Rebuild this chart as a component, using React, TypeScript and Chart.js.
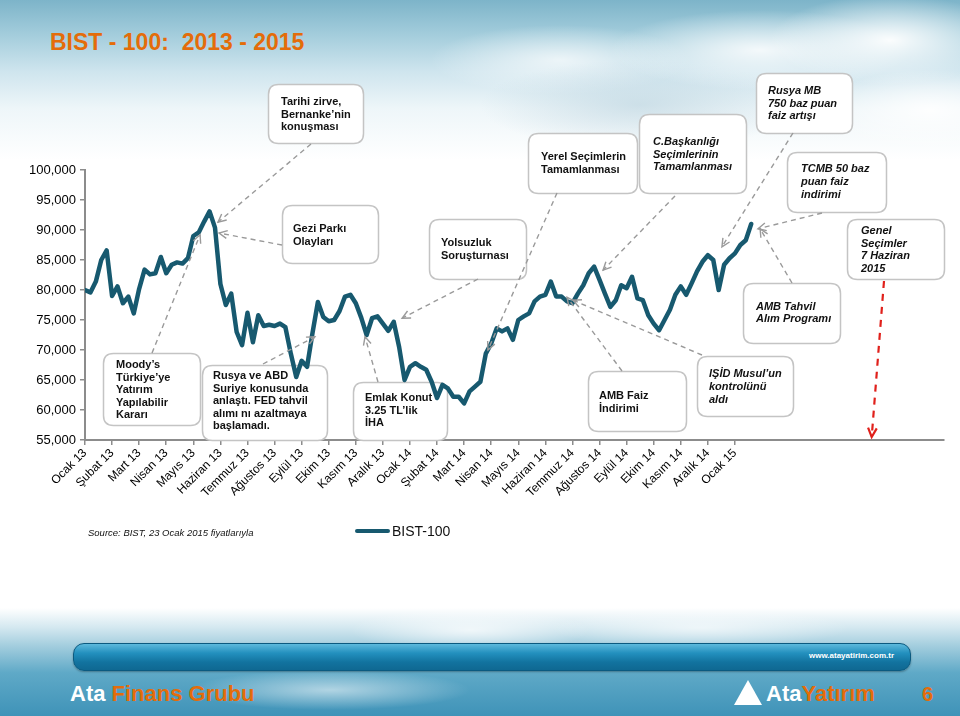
import React, { useEffect, useRef } from 'react';
import { Chart, registerables } from 'chart.js';

Chart.register(...registerables);

// ---------- DATA ----------
const monthLabels = [
  'Ocak 13', 'Şubat 13', 'Mart 13', 'Nisan 13', 'Mayıs 13', 'Haziran 13', 'Temmuz 13', 'Ağustos 13',
  'Eylül 13', 'Ekim 13', 'Kasım 13', 'Aralık 13', 'Ocak 14', 'Şubat 14', 'Mart 14', 'Nisan 14',
  'Mayıs 14', 'Haziran 14', 'Temmuz 14', 'Ağustos 14', 'Eylül 14', 'Ekim 14', 'Kasım 14', 'Aralık 14', 'Ocak 15',
];

// readings every 0.2 month starting at the start of January 2013
const STEP_MONTHS = 0.2;
const bist100 = [
  80000, 79600, 81400, 85000, 86600, 79000, 80600, 77800, 78900, 76100,
  80200, 83400, 82600, 82800, 85500, 82800, 84200, 84600, 84400, 85300,
  89000, 89600, 91400, 93100, 90400, 81000, 77500, 79400, 73000, 70800,
  76200, 71300, 75800, 74000, 74200, 74000, 74400, 73800, 69400, 65500,
  68200, 67200, 72800, 78000, 75500, 74800, 75000, 76500, 78900, 79200,
  77800, 75400, 72500, 75300, 75600, 74400, 73200, 74700, 70500, 65000,
  67200, 67800, 67200, 66700, 64700, 62000, 64200, 63600, 62200, 62200,
  61100, 63100, 63900, 64700, 69400, 71100, 73600, 73100, 73600, 71700,
  75000, 75600, 76100, 78100, 78900, 79200, 81400, 78900, 78900, 78100,
  77800, 79400, 80800, 82800, 83900, 81700, 79400, 77200, 78300, 80800,
  80300, 82200, 78600, 78300, 75800, 74400, 73300, 75000, 76700, 79200,
  80600, 79200, 81100, 83100, 84700, 85800, 85000, 80000, 84200, 85300,
  86100, 87500, 88300, 91000,
];

const yMin = 55000;
const yMax = 100000;
const yStep = 5000;
const xMaxMonths = 31.72;

// ---------- CALLOUTS (layout) ----------
type Callout = { x: number; y: number; w: number; h: number; tx: number; ty: number; lh: number; italic: boolean; lines: string[] };
const callouts: Callout[] = [
  { x: 268, y: 84, w: 95, h: 59, tx: 281, ty: 102, lh: 12.5, italic: false, lines: ['Tarihi zirve,', 'Bernanke’nin', 'konuşması'] },
  { x: 282, y: 205, w: 96, h: 58, tx: 293, ty: 229, lh: 13, italic: false, lines: ['Gezi Parkı', 'Olayları'] },
  { x: 429, y: 219, w: 97, h: 60, tx: 441, ty: 243, lh: 13, italic: false, lines: ['Yolsuzluk', 'Soruşturnası'] },
  { x: 528, y: 133, w: 109, h: 60, tx: 541, ty: 157, lh: 13, italic: false, lines: ['Yerel Seçimlerin', 'Tamamlanması'] },
  { x: 639, y: 114, w: 107, h: 79, tx: 653, ty: 142, lh: 12.5, italic: true, lines: ['C.Başkanlığı', 'Seçimlerinin', 'Tamamlanması'] },
  { x: 756, y: 73, w: 96, h: 60, tx: 768, ty: 91, lh: 12.5, italic: true, lines: ['Rusya MB', '750 baz puan', 'faiz artışı'] },
  { x: 787, y: 152, w: 99, h: 60, tx: 801, ty: 169, lh: 13, italic: true, lines: ['TCMB 50 baz', 'puan faiz', 'indirimi'] },
  { x: 847, y: 219, w: 97, h: 60, tx: 861, ty: 231, lh: 12.5, italic: true, lines: ['Genel', 'Seçimler', '7 Haziran', '2015'] },
  { x: 743, y: 283, w: 97, h: 60, tx: 756, ty: 307, lh: 12, italic: true, lines: ['AMB Tahvil', 'Alım Programı'] },
  { x: 697, y: 356, w: 96, h: 60, tx: 709, ty: 374, lh: 13, italic: true, lines: ['IŞİD Musul’un', 'kontrolünü', 'aldı'] },
  { x: 588, y: 371, w: 98, h: 60, tx: 599, ty: 396, lh: 12.5, italic: false, lines: ['AMB Faiz', 'İndirimi'] },
  { x: 353, y: 382, w: 94, h: 58, tx: 365, ty: 398, lh: 12.5, italic: false, lines: ['Emlak Konut', '3.25 TL’lik', 'İHA'] },
  { x: 202, y: 365, w: 125, h: 75, tx: 213, ty: 376, lh: 12.5, italic: false, lines: ['Rusya ve ABD', 'Suriye konusunda', 'anlaştı. FED tahvil', 'alımı nı azaltmaya', 'başlamadı.'] },
  { x: 103, y: 353, w: 97, h: 72, tx: 116, ty: 365, lh: 12.5, italic: false, lines: ['Moody’s', 'Türkiye’ye', 'Yatırım', 'Yapılabilir', 'Kararı'] },
];

// arrows: start point in pixels (on a callout), tip in data units (month, index value)
type Arrow = { fx: number; fy: number; month: number; value: number; red?: boolean };
const arrows: Arrow[] = [
  { fx: 311, fy: 144, month: 4.91, value: 91300 },
  { fx: 282, fy: 245, month: 4.95, value: 89500 },
  { fx: 152, fy: 353, month: 4.25, value: 89200 },
  { fx: 263, fy: 364, month: 8.49, value: 72200 },
  { fx: 378, fy: 382, month: 10.34, value: 72200 },
  { fx: 478, fy: 279, month: 11.71, value: 75300 },
  { fx: 557, fy: 193, month: 14.88, value: 70000 },
  { fx: 675, fy: 196, month: 19.13, value: 83300 },
  { fx: 793, fy: 133, month: 23.52, value: 87200 },
  { fx: 822, fy: 213, month: 24.85, value: 90200 },
  { fx: 792, fy: 283, month: 24.93, value: 90200 },
  { fx: 622, fy: 371, month: 17.8, value: 78800 },
  { fx: 702, fy: 355, month: 18.02, value: 78300 },
  { fx: 884, fy: 281, month: 29.05, value: 55500, red: true },
];

const LINE_COLOR = '#17596F';
const ORANGE = '#E46C0A';
const FONT = 'Arial, "Liberation Sans", sans-serif';

function rrect(ctx: CanvasRenderingContext2D, x: number, y: number, w: number, h: number, r: number) {
  ctx.beginPath();
  ctx.moveTo(x + r, y);
  ctx.lineTo(x + w - r, y);
  ctx.quadraticCurveTo(x + w, y, x + w, y + r);
  ctx.lineTo(x + w, y + h - r);
  ctx.quadraticCurveTo(x + w, y + h, x + w - r, y + h);
  ctx.lineTo(x + r, y + h);
  ctx.quadraticCurveTo(x, y + h, x, y + h - r);
  ctx.lineTo(x, y + r);
  ctx.quadraticCurveTo(x, y, x + r, y);
  ctx.closePath();
}

const calloutPlugin = {
  id: 'callouts',
  beforeDatasetsDraw(chart: any) {
    const ctx: CanvasRenderingContext2D = chart.ctx;
    ctx.save();
    for (const b of callouts) {
      rrect(ctx, b.x + 0.5, b.y + 0.5, b.w, b.h, 10);
      ctx.fillStyle = '#ffffff';
      ctx.fill();
      ctx.strokeStyle = '#c4c4c4';
      ctx.lineWidth = 1.5;
      ctx.stroke();
      ctx.fillStyle = '#111111';
      ctx.font = `${b.italic ? 'italic ' : ''}bold 11px ${FONT}`;
      ctx.textBaseline = 'middle';
      ctx.textAlign = 'left';
      b.lines.forEach((t, i) => ctx.fillText(t, b.tx, b.ty + i * b.lh));
    }
    ctx.restore();
  },
  afterDatasetsDraw(chart: any) {
    const ctx: CanvasRenderingContext2D = chart.ctx;
    const xs = chart.scales.x;
    const ys = chart.scales.y;
    ctx.save();
    for (const a of arrows) {
      const tx = xs.getPixelForValue(a.month);
      const ty = ys.getPixelForValue(a.value);
      const col = a.red ? '#E0201B' : '#9a9a9a';
      ctx.strokeStyle = col;
      ctx.lineWidth = a.red ? 2.2 : 1.4;
      ctx.setLineDash(a.red ? [7, 6] : [5, 4]);
      ctx.beginPath();
      ctx.moveTo(a.fx, a.fy);
      ctx.lineTo(tx, ty);
      ctx.stroke();
      ctx.setLineDash([]);
      const ang = Math.atan2(ty - a.fy, tx - a.fx);
      const L = a.red ? 10 : 9;
      const spread = 0.45;
      ctx.beginPath();
      ctx.moveTo(tx - L * Math.cos(ang - spread), ty - L * Math.sin(ang - spread));
      ctx.lineTo(tx, ty);
      ctx.lineTo(tx - L * Math.cos(ang + spread), ty - L * Math.sin(ang + spread));
      ctx.stroke();
    }
    ctx.restore();
  },
};

export default function App() {
  const canvasRef = useRef<HTMLCanvasElement | null>(null);

  useEffect(() => {
    const canvas = canvasRef.current;
    if (!canvas) return;
    const chart = new Chart(canvas, {
      type: 'line',
      data: {
        datasets: [
          {
            label: 'BIST-100',
            data: bist100.map((v, i) => ({ x: i * STEP_MONTHS, y: v })),
            borderColor: LINE_COLOR,
            backgroundColor: LINE_COLOR,
            borderWidth: 4.5,
            pointRadius: 0,
            tension: 0,
            fill: false,
            borderJoinStyle: 'round',
            borderCapStyle: 'round',
          },
        ],
      },
      options: {
        responsive: false,
        animation: false,
        devicePixelRatio: 1,
        layout: { padding: { top: 170, right: 16, left: 0, bottom: 0 } },
        plugins: { legend: { display: false }, tooltip: { enabled: false } },
        scales: {
          x: {
            type: 'linear',
            min: 0,
            max: xMaxMonths,
            afterBuildTicks: (s: any) => {
              s.ticks = monthLabels.map((_, i) => ({ value: i }));
            },
            afterFit: (s: any) => {
              s.height = 276;
            },
            ticks: {
              autoSkip: false,
              minRotation: 45,
              maxRotation: 45,
              padding: 1,
              color: '#000',
              font: { family: FONT, size: 12 },
              callback: (_v: any, i: number) => monthLabels[i] ?? '',
            },
            grid: { display: true, drawOnChartArea: false, drawTicks: true, tickLength: 5, color: '#8c8c8c', lineWidth: 1.5 },
            border: { display: true, color: '#8c8c8c', width: 2 },
          },
          y: {
            min: yMin,
            max: yMax,
            afterFit: (s: any) => {
              s.width = 85;
            },
            ticks: {
              stepSize: yStep,
              padding: 4,
              color: '#000',
              font: { family: FONT, size: 13 },
              callback: (v: any) => Number(v).toLocaleString('en-US'),
            },
            grid: { display: true, drawOnChartArea: false, drawTicks: true, tickLength: 5, color: '#8c8c8c', lineWidth: 1.5 },
            border: { display: true, color: '#8c8c8c', width: 2 },
          },
        },
      },
      plugins: [calloutPlugin],
    } as any);
    return () => chart.destroy();
  }, []);

  return (
    <div style={{ position: 'absolute', left: 0, top: 0, width: 960, height: 716, overflow: 'hidden', background: '#ffffff', fontFamily: FONT }}>
      {/* sky */}
      <div
        style={{
          position: 'absolute', left: 0, top: 0, width: 960, height: 160,
          background: 'linear-gradient(180deg, #7db4c9 0%, #a4cddc 22%, #cfe5ee 45%, #eef6f9 68%, rgba(255,255,255,0) 100%)',
        }}
      />
      <div
        style={{
          position: 'absolute', left: 0, top: 0, width: 960, height: 160,
          background:
            'radial-gradient(ellipse 120px 45px at 890px 40px, rgba(255,255,255,0.95), rgba(255,255,255,0) 100%),' +
            'radial-gradient(ellipse 150px 40px at 760px 50px, rgba(255,255,255,0.85), rgba(255,255,255,0) 100%),' +
            'radial-gradient(ellipse 160px 45px at 640px 105px, rgba(185,210,222,0.6), rgba(185,210,222,0) 100%),' +
            'radial-gradient(ellipse 130px 35px at 560px 60px, rgba(255,255,255,0.7), rgba(255,255,255,0) 100%),' +
            'radial-gradient(ellipse 110px 40px at 930px 110px, rgba(255,255,255,0.9), rgba(255,255,255,0) 100%)',
        }}
      />
      {/* footer */}
      <div
        style={{
          position: 'absolute', left: 0, top: 608, width: 960, height: 108,
          background: 'linear-gradient(180deg, rgba(255,255,255,0) 0%, #d4e8f0 18%, #a6cfdf 34%, #5fa9c7 60%, #3f93b8 100%)',
        }}
      />
      <div
        style={{
          position: 'absolute', left: 0, top: 608, width: 960, height: 108,
          background:
            'radial-gradient(ellipse 140px 20px at 330px 690px, rgba(255,255,255,0.55), rgba(255,255,255,0) 100%),' +
            'radial-gradient(ellipse 120px 22px at 470px 630px, rgba(255,255,255,0.7), rgba(255,255,255,0) 100%),' +
            'radial-gradient(ellipse 150px 20px at 700px 628px, rgba(255,255,255,0.6), rgba(255,255,255,0) 100%)',
          backgroundPosition: '0 -608px',
          backgroundSize: '960px 716px',
        }}
      />
      <div
        style={{
          position: 'absolute', left: 73, top: 643, width: 836, height: 26, borderRadius: 11,
          background: 'linear-gradient(180deg, #5cb9dc 0%, #2390be 35%, #12739f 70%, #0f6892 100%)',
          border: '1px solid #0b5a80', boxShadow: '0 1px 2px rgba(0,0,0,0.3)',
        }}
      />
      <div style={{ position: 'absolute', left: 780, top: 651, width: 114, textAlign: 'right', color: '#fff', fontSize: 8, fontWeight: 'bold', lineHeight: '10px' }}>
        www.atayatirim.com.tr
      </div>
      <div style={{ position: 'absolute', left: 70, top: 681, fontSize: 22, fontWeight: 'bold', lineHeight: '26px', whiteSpace: 'pre' }}>
        <span style={{ color: '#fff' }}>Ata </span>
        <span style={{ color: ORANGE }}>Finans Grubu</span>
      </div>
      <div
        style={{
          position: 'absolute', left: 734, top: 680, width: 0, height: 0,
          borderLeft: '14px solid transparent', borderRight: '14px solid transparent', borderBottom: '25px solid #ffffff',
        }}
      />
      <div style={{ position: 'absolute', left: 766, top: 681, fontSize: 22, fontWeight: 'bold', lineHeight: '26px', whiteSpace: 'pre' }}>
        <span style={{ color: '#fff' }}>Ata</span>
        <span style={{ color: ORANGE }}>Yatırım</span>
      </div>
      <div style={{ position: 'absolute', left: 922, top: 682, fontSize: 20, fontWeight: 'bold', lineHeight: '24px', color: ORANGE }}>6</div>

      {/* title */}
      <div style={{ position: 'absolute', left: 50, top: 30, fontSize: 23, fontWeight: 'bold', lineHeight: '24px', color: ORANGE, whiteSpace: 'pre' }}>
        BIST - 100:  2013 - 2015
      </div>

      <canvas ref={canvasRef} width={960} height={716} style={{ position: 'absolute', left: 0, top: 0, width: 960, height: 716 }} />

      {/* source + legend */}
      <div style={{ position: 'absolute', left: 88, top: 527, fontSize: 9.5, fontStyle: 'italic', lineHeight: '12px', color: '#111', whiteSpace: 'pre' }}>
        Source: BIST, 23 Ocak 2015 fiyatlarıyla
      </div>
      <div style={{ position: 'absolute', left: 355, top: 529, width: 35, height: 4, borderRadius: 2, background: LINE_COLOR }} />
      <div style={{ position: 'absolute', left: 392, top: 523, fontSize: 14, lineHeight: '16px', color: '#111' }}>BIST-100</div>
    </div>
  );
}
